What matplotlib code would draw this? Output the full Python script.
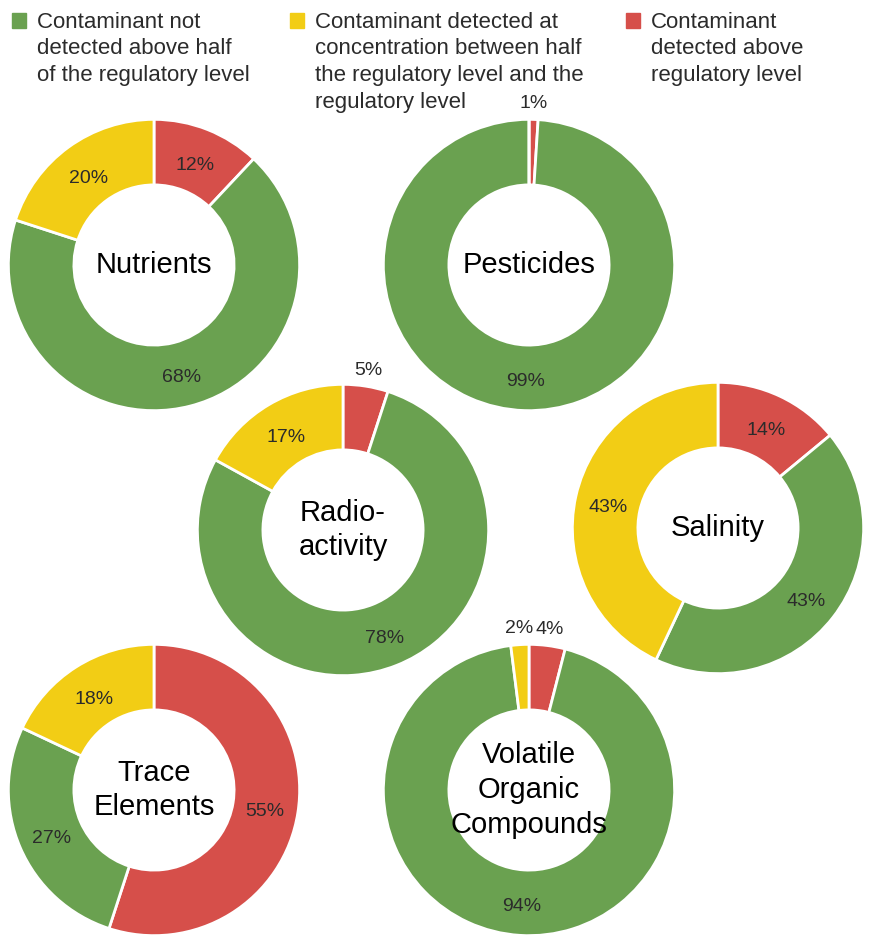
import matplotlib.pyplot as plt
from matplotlib.patches import Rectangle
import numpy as np

plt.rcParams['font.family'] = ['Liberation Sans', 'DejaVu Sans']

# order of wedges, clockwise from 12 o'clock: red, green, yellow
groups = ["Nutrients", "Pesticides", "Radio-\nactivity", "Salinity", "Trace\nElements",
          "Volatile\nOrganic\nCompounds"]
above = [12, 1, 5, 14, 55, 4]
not_detected = [68, 99, 78, 43, 27, 94]
between = [20, 0, 17, 43, 18, 2]

legend_labels = ["Contaminant not\ndetected above half\nof the regulatory level",
                 "Contaminant detected at\nconcentration between half\nthe regulatory level and the\nregulatory level",
                 "Contaminant\ndetected above\nregulatory level"]
colors = ["#6aa150", "#f2cd15", "#d64f4a"]  # green, yellow, red
text_col = "#2b2b2b"

W, H = 870, 935
fig = plt.figure(figsize=(W / 100, H / 100), dpi=100)

centers = [(154, 265), (529, 265), (343, 530), (718, 528), (154, 790), (529, 790)]
box = 300

for name, a, n, b, (cx, cy) in zip(groups, above, not_detected, between, centers):
    ax = fig.add_axes([(cx - box / 2) / W, 1 - (cy + box / 2) / H, box / W, box / H])
    vals = [a, n, b]
    ax.pie(vals, colors=[colors[2], colors[0], colors[1]], startangle=90,
           counterclock=False, radius=1,
           wedgeprops=dict(width=0.45, edgecolor="white", linewidth=2))
    ax.set_xlim(-1.03, 1.03)
    ax.set_ylim(-1.03, 1.03)
    ax.set_aspect("equal")
    ax.axis("off")
    total = sum(vals)
    start = 0
    for v in vals:
        if v > 0:
            mid = 90 - (start + v / 2) / total * 360
            inside = v >= 10
            r = 0.77 if inside else 1.11
            dy = -0.03 if inside else 0
            ax.text(r * np.cos(np.radians(mid)), r * np.sin(np.radians(mid)) + dy, f"{v}%",
                    ha="center", va="center", fontsize=14, color=text_col, clip_on=False)
        start += v
    ax.text(0, 0, name, ha="center", va="center", fontsize=21, color="black",
            linespacing=1.3)

# legend at top, one text per line
leg_x = [12, 290, 626]
for lab, c, x in zip(legend_labels, colors, leg_x):
    fig.add_artist(Rectangle((x / W, 1 - 28 / H), 14 / W, 15 / H, color=c,
                             transform=fig.transFigure))
    for i, line in enumerate(lab.split("\n")):
        fig.text((x + 25) / W, 1 - (22 + 26.7 * i) / H, line, ha="left", va="center",
                 fontsize=16, color=text_col)

fig.savefig("out.png", dpi=100)
